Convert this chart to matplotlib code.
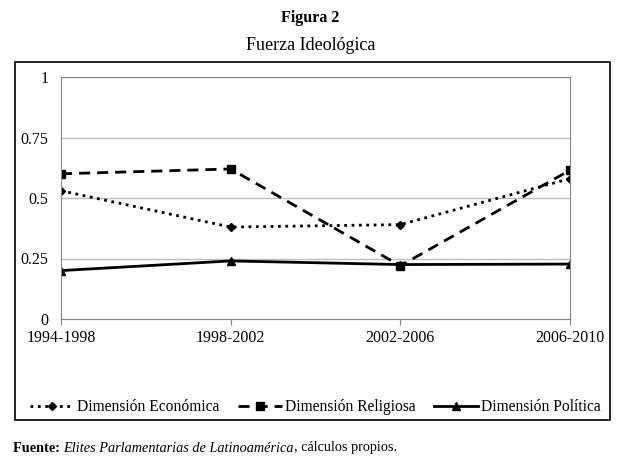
import matplotlib.pyplot as plt
from matplotlib.patches import Rectangle

plt.rcParams['font.family'] = ['Liberation Serif', 'DejaVu Serif']

periodos = ['1994-1998', '1998-2002', '2002-2006', '2006-2010']
economica = [0.53, 0.38, 0.39, 0.58]
religiosa = [0.60, 0.62, 0.22, 0.615]
politica = [0.20, 0.24, 0.225, 0.227]
yticks = [0, 0.25, 0.5, 0.75, 1]
ylabels = ['0', '0.25', '0.5', '0.75', '1']

fig = plt.figure(figsize=(6.21, 4.7), dpi=100)
ax = fig.add_axes([61/621, 1-319/470, (570-61)/621, (319-77)/470])

x = list(range(len(periodos)))
ax.plot(x, economica, ':', color='black', lw=2, marker='D', ms=4, label='Dimensión Económica')
ax.plot(x, religiosa, '--', color='black', lw=2, dashes=(4, 2.5), marker='s', ms=6, label='Dimensión Religiosa')
ax.plot(x, politica, '-', color='black', lw=2, marker='^', ms=6, label='Dimensión Política')

ax.set_xlim(0, 3)
ax.set_ylim(0, 1)
ax.set_yticks(yticks)
ax.set_yticklabels(ylabels)
ax.set_xticks(x)
ax.set_xticklabels(periodos)
ax.yaxis.grid(True, color='#bdbdbd', lw=1)
ax.set_axisbelow(True)
for s in ax.spines.values():
    s.set_color('#888888')
ax.tick_params(axis='y', length=0, labelsize=11.5, pad=9)
ax.tick_params(axis='x', length=4, color='#888888', labelsize=11.5, pad=4, direction='out')

# marco exterior
fig.patches.append(Rectangle((15/621, 1-420/470), 595/621, 358/470, transform=fig.transFigure,
                             fill=False, edgecolor='black', lw=1.2))

fig.text(0.5, 1-18/470, 'Figura 2', ha='center', va='center', fontsize=11.5, fontweight='bold')
fig.text(0.5, 1-45/470, 'Fuerza Ideológica', ha='center', va='center', fontsize=13)

fig.legend(loc='center', bbox_to_anchor=(0.508, 1-407/470), ncol=3, frameon=False,
           fontsize=11.2, handlelength=2.8, handletextpad=0.2, columnspacing=1.2)

# fuente
r = fig.canvas.get_renderer()
t1 = fig.text(13/621, 1-448/470, 'Fuente: ', fontsize=10.3, fontweight='bold', va='center')
bb = t1.get_window_extent(r)
t2 = fig.text(bb.x1/621, 1-448/470, 'Elites Parlamentarias de Latinoamérica', fontsize=10.3,
              style='italic', va='center')
bb = t2.get_window_extent(r)
fig.text(bb.x1/621, 1-448/470, ', cálculos propios.', fontsize=10.3, va='center')

fig.savefig('out.png', dpi=100)
